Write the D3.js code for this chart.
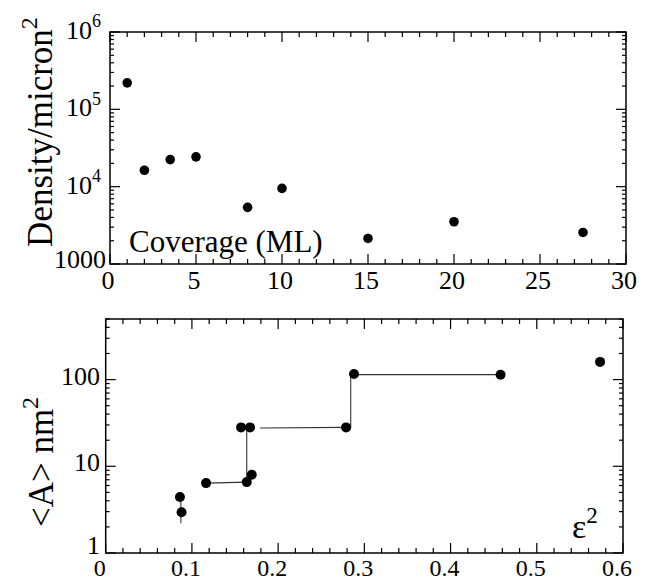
<!DOCTYPE html>
<html><head><meta charset="utf-8">
<script src="https://cdn.jsdelivr.net/npm/d3@7"></script>
</head><body style="margin:0;background:#fff"><svg id="c" width="650" height="584"></svg>
<script>
// ---- top panel data ----
const coverage = [1, 2, 3.5, 5, 8, 10, 15, 20, 27.5];
const density  = [2.2e5, 1.63e4, 2.24e4, 2.43e4, 5.4e3, 9.5e3, 2.14e3, 3.52e3, 2.56e3];
const topXTicks = [0, 5, 10, 15, 20, 25, 30];
const topYTicks = [1e3, 1e4, 1e5, 1e6];
const topYLabels = ["1000", "10|4", "10|5", "10|6"];

// ---- bottom panel data ----
const eps2    = [0.0861, 0.088, 0.1164, 0.1636, 0.1694, 0.157, 0.1674, 0.2788, 0.288, 0.458, 0.5734];
const areaNm2 = [4.43, 2.95, 6.4, 6.57, 7.98, 28.1, 28.1, 28.1, 116, 114, 160];
// guide segments [x1, y1, x2, y2] in data units
const guides = [
  [0.0872, 2.2, 0.0872, 4.43],
  [0.1164, 6.4, 0.1636, 6.57],
  [0.1636, 6.57, 0.1636, 28.1],
  [0.179, 27.6, 0.2788, 28.1],
  [0.2842, 28.1, 0.2842, 116],
  [0.288, 114, 0.458, 114]
];
const botXTicks = [0, 0.1, 0.2, 0.3, 0.4, 0.5, 0.6];
const botYTicks = [1, 10, 100];
const botYLabels = ["1", "10", "100"];

const SERIF = "Times New Roman";
const svg = d3.select("#c").style("font-family", SERIF);

function txt(g) {
  return g.append("text").attr("font-family", SERIF).style("font-family", SERIF).attr("fill", "#000");
}

function frame(g, x, y, xMajor, xMinorStep) {
  const [x0, x1] = x.range(), [y0, y1] = y.range();
  const [dx0, dx1] = x.domain();
  const xs = d3.range(Math.round((dx1 - dx0) / xMinorStep) + 1).map(i => dx0 + i * xMinorStep);
  xs.forEach(v => {
    const major = xMajor.some(m => Math.abs(m - v) < xMinorStep / 10);
    const L = major ? 10 : 5;
    g.append("line").attr("x1", x(v)).attr("x2", x(v)).attr("y1", y0).attr("y2", y0 - L).attr("stroke", "#000").attr("stroke-width", 1.2);
    g.append("line").attr("x1", x(v)).attr("x2", x(v)).attr("y1", y1).attr("y2", y1 + L).attr("stroke", "#000").attr("stroke-width", 1.2);
  });
  const [dy0, dy1] = y.domain();
  for (let e = Math.floor(Math.log10(dy0)); e <= Math.ceil(Math.log10(dy1)); e++) {
    for (let m = 1; m <= 9; m++) {
      const v = m * Math.pow(10, e);
      if (v < dy0 * 0.999 || v > dy1 * 1.001) continue;
      const L = m === 1 ? 10 : 4;
      g.append("line").attr("x1", x0).attr("x2", x0 + L).attr("y1", y(v)).attr("y2", y(v)).attr("stroke", "#000").attr("stroke-width", 1.2);
      g.append("line").attr("x1", x1).attr("x2", x1 - L).attr("y1", y(v)).attr("y2", y(v)).attr("stroke", "#000").attr("stroke-width", 1.2);
    }
  }
  g.append("rect").attr("x", x0).attr("y", y1).attr("width", x1 - x0).attr("height", y0 - y1)
    .attr("fill", "none").attr("stroke", "#000").attr("stroke-width", 1.5);
}

function supText(g, base, sup, x, y, size, anchor) {
  const t = txt(g).attr("x", x).attr("y", y).attr("font-size", size).attr("text-anchor", anchor || "start");
  t.append("tspan").text(base);
  if (sup) t.append("tspan").attr("dy", -size * 0.45).attr("font-size", Math.round(size * 0.68)).text(sup);
  return t;
}

// ===== TOP PANEL =====
const xT = d3.scaleLinear().domain([0, 30]).range([110, 626]);
const yT = d3.scaleLog().domain([1e3, 1e6]).range([264, 32]);
const gT = svg.append("g");
frame(gT, xT, yT, topXTicks, 1);

topXTicks.forEach(d => {
  txt(gT).attr("x", xT(d) - 2).attr("y", 289).attr("text-anchor", "middle").attr("font-size", 26).text(String(d));
});
topYTicks.forEach((d, i) => {
  const p = topYLabels[i].split("|");
  supText(gT, p[0], p[1], i === 0 ? 106 : 101, yT(d) + (i === 0 ? 4 : 7), 26, "end");
});

gT.selectAll("circle").data(coverage).join("circle")
  .attr("cx", d => xT(d)).attr("cy", (d, i) => yT(density[i])).attr("r", 4.8).attr("fill", "#000");

txt(gT).attr("x", 129).attr("y", 252).attr("font-size", 31).text("Coverage (ML)");
const tT = txt(gT).attr("transform", "translate(52,132) rotate(-90)")
  .attr("text-anchor", "middle").attr("font-size", 35);
tT.append("tspan").text("Density/micron");
tT.append("tspan").attr("dy", -15).attr("font-size", 24).text("2");

// ===== BOTTOM PANEL =====
const xB = d3.scaleLinear().domain([0, 0.6]).range([105.7, 623]);
const yB = d3.scaleLog().domain([1, 500]).range([553, 319]);
const gB = svg.append("g");
frame(gB, xB, yB, botXTicks, 0.02);

botXTicks.forEach(d => {
  txt(gB).attr("x", xB(d) - 6).attr("y", 576).attr("text-anchor", "middle").attr("font-size", 24)
    .text(d === 0 ? "0" : d.toFixed(1));
});
botYTicks.forEach((d, i) => {
  txt(gB).attr("x", 100).attr("y", yB(d) + (i === 0 ? 1 : 5)).attr("text-anchor", "end").attr("font-size", 26).text(botYLabels[i]);
});

gB.selectAll(".g").data(guides).join("line")
  .attr("x1", d => xB(d[0])).attr("y1", d => yB(d[1])).attr("x2", d => xB(d[2])).attr("y2", d => yB(d[3]))
  .attr("stroke", "#333").attr("stroke-width", 1.1);

gB.selectAll("circle").data(eps2).join("circle")
  .attr("cx", d => xB(d)).attr("cy", (d, i) => yB(areaNm2[i])).attr("r", 5).attr("fill", "#000");

supText(gB, "ε", "2", 572, 538, 34, "start");

const tB = txt(gB).attr("transform", "translate(53,462) rotate(-90)")
  .attr("text-anchor", "middle").attr("font-size", 35);
tB.append("tspan").text("<A> nm");
tB.append("tspan").attr("dy", -15).attr("font-size", 24).text("2");
</script>
</body></html>
